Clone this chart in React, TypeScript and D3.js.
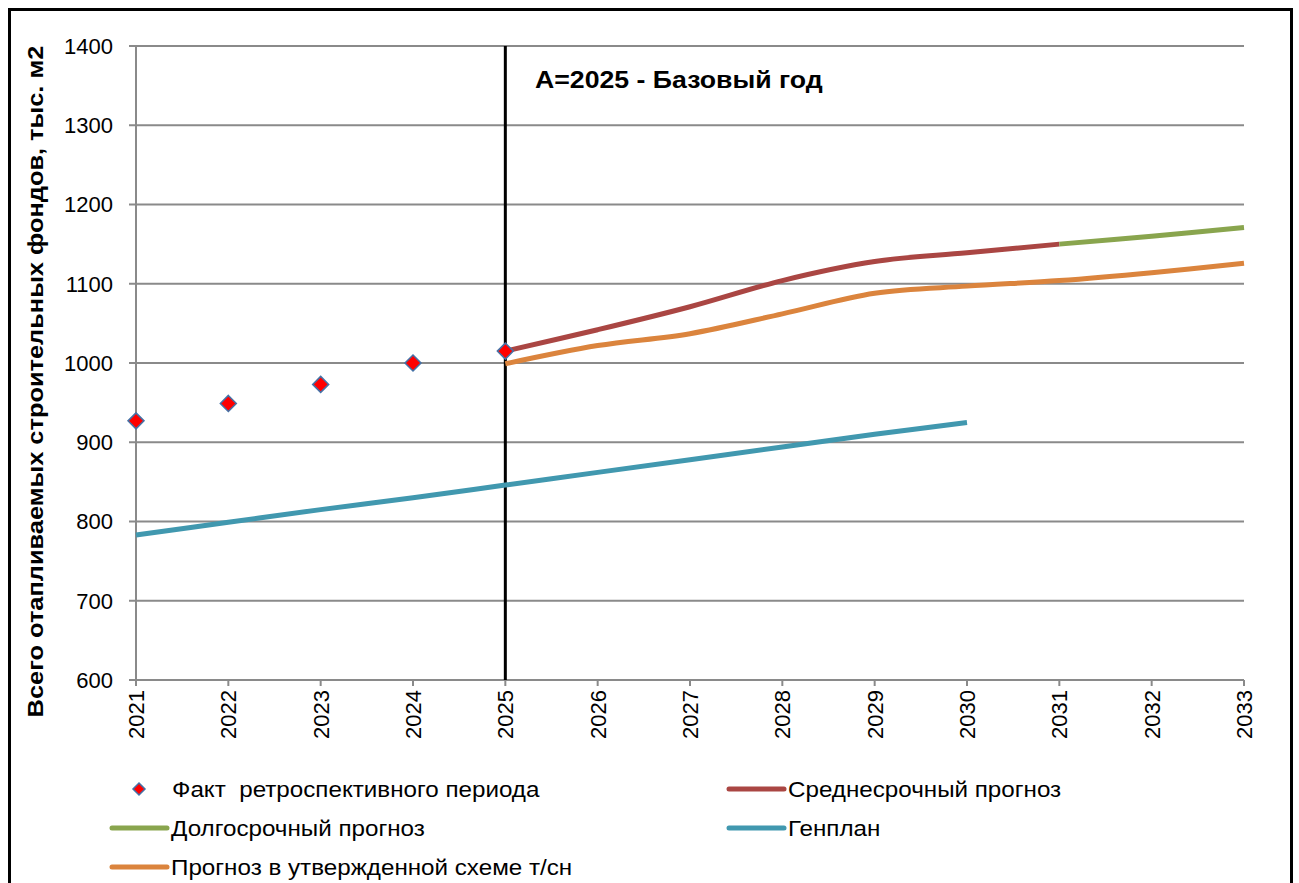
import React from "react";
import * as d3 from "d3";

const years = [2021, 2022, 2023, 2024, 2025, 2026, 2027, 2028, 2029, 2030, 2031, 2032, 2033];
const yTicks = [600, 700, 800, 900, 1000, 1100, 1200, 1300, 1400];

const factYears = [2021, 2022, 2023, 2024, 2025];
const factValues = [927, 949, 973, 1000, 1015];

const midYears = [2025, 2026, 2027, 2028, 2029, 2030, 2031];
const midValues = [1015, 1042, 1071, 1104, 1128, 1139, 1150];

const longYears = [2031, 2032, 2033];
const longValues = [1150, 1160, 1171];

const approvedYears = [2025, 2026, 2027, 2028, 2029, 2030, 2031, 2032, 2033];
const approvedValues = [999, 1022, 1037, 1062, 1088, 1097, 1104, 1114, 1126];

const genYears = [2021, 2022, 2023, 2024, 2025, 2026, 2027, 2028, 2029, 2030];
const genValues = [783, 799, 815, 830, 846, 862, 878, 894, 910, 925];

const baseYear = 2025;
const annotation = "А=2025 - Базовый год";
const yTitle = "Всего отапливаемых строительных фондов, тыс. м2";

const C = {
  mid: "#AA4643",
  long: "#89A54E",
  gen: "#4198AF",
  approved: "#DB843D",
  factFill: "#FF0000",
  factStroke: "#4572A7",
  grid: "#8A8A8A",
};

const legendItems = [
  { label: "Факт  ретроспективного периода", kind: "marker", color: C.factFill, col: 0, row: 0 },
  { label: "Среднесрочный прогноз", kind: "line", color: C.mid, col: 1, row: 0 },
  { label: "Долгосрочный прогноз", kind: "line", color: C.long, col: 0, row: 1 },
  { label: "Генплан", kind: "line", color: C.gen, col: 1, row: 1 },
  { label: "Прогноз в утвержденной схеме т/сн", kind: "line", color: C.approved, col: 0, row: 2 },
];

export default function App() {
  const W = 1299, H = 883;
  const left = 136, right = 1244, top = 46, bottom = 680;
  const x = d3.scaleLinear().domain([2021, 2033]).range([left, right]);
  const y = d3.scaleLinear().domain([600, 1400]).range([bottom, top]);
  const font = "'Liberation Sans', Arial, sans-serif";

  const mkLine = (xs: number[], vs: number[]) =>
    d3.line<number>().x((_, i) => x(xs[i])).y((v) => y(v)).curve(d3.curveCatmullRom.alpha(0))(vs) || "";

  const diamond = (cx: number, cy: number, r: number) =>
    `M${cx},${cy - r}L${cx + r},${cy}L${cx},${cy + r}L${cx - r},${cy}Z`;

  const legendX = [110, 727];
  const legendY = [789, 828, 867];

  return (
    <svg width={W} height={H} style={{ position: "absolute", left: 0, top: 0, background: "#fff" }} fontFamily={font}>
      <rect x={9.5} y={9.5} width={1282} height={H + 10} fill="#fff" stroke="#000" strokeWidth={3} />
      {/* grid */}
      {yTicks.map((t) => (
        <line key={t} x1={left - 7} x2={right} y1={y(t)} y2={y(t)} stroke={C.grid} strokeWidth={2} />
      ))}
      {yTicks.map((t) => (
        <text key={"yl" + t} x={113} y={y(t)} dy="0.36em" textAnchor="end" fontSize={22} fill="#000">
          {t}
        </text>
      ))}
      <line x1={left} x2={left} y1={top} y2={bottom} stroke={C.grid} strokeWidth={2} />
      {years.map((yr) => (
        <line key={"xt" + yr} x1={x(yr)} x2={x(yr)} y1={bottom} y2={bottom + 6} stroke={C.grid} strokeWidth={2} />
      ))}
      {years.map((yr) => (
        <text
          key={"xl" + yr}
          transform={`translate(${x(yr)},${bottom + 10}) rotate(-90)`}
          textAnchor="end"
          dy="0.36em"
          fontSize={22}
          fill="#000"
        >
          {yr}
        </text>
      ))}
      <g transform={`translate(35,${(45 + 718) / 2}) rotate(-90) scale(1.155,1)`}>
        <text x={0} y={0} textAnchor="middle" dy="0.36em" fontSize={22} fontWeight="bold" fill="#000">
          {yTitle}
        </text>
      </g>

      {/* base year line */}
      <line x1={x(baseYear)} x2={x(baseYear)} y1={top} y2={bottom} stroke="#000" strokeWidth={3} />
      <g transform="translate(535,88) scale(1.16,1)">
        <text x={0} y={0} fontSize={23} fontWeight="bold" fill="#000">
          {annotation}
        </text>
      </g>

      {/* series */}
      <path d={mkLine(genYears, genValues)} fill="none" stroke={C.gen} strokeWidth={5} />
      <path d={mkLine(approvedYears, approvedValues)} fill="none" stroke={C.approved} strokeWidth={5} />
      <path d={mkLine(midYears, midValues)} fill="none" stroke={C.mid} strokeWidth={5} />
      <path d={mkLine(longYears, longValues)} fill="none" stroke={C.long} strokeWidth={5} />
      {factValues.map((v, i) => (
        <path key={"f" + i} d={diamond(x(factYears[i]), y(v), 8)} fill={C.factFill} stroke={C.factStroke} strokeWidth={1.5} />
      ))}

      {/* legend */}
      {legendItems.map((it) => {
        const lx = legendX[it.col];
        const ly = legendY[it.row];
        const tx = it.kind === "line" ? lx + 61 : lx + 62;
        return (
          <g key={it.label}>
            {it.kind === "line" ? (
              <line x1={lx + 2} x2={lx + 57} y1={ly} y2={ly} stroke={it.color} strokeWidth={5} strokeLinecap="round" />
            ) : (
              <path d={diamond(lx + 29, ly, 6)} fill={C.factFill} stroke={C.factStroke} strokeWidth={1.5} />
            )}
            <g transform={`translate(${tx},${ly}) scale(1.1,1)`}>
              <text x={0} y={0} dy="0.36em" fontSize={22} fill="#000" style={{ whiteSpace: "pre" }}>
                {it.label}
              </text>
            </g>
          </g>
        );
      })}
    </svg>
  );
}
